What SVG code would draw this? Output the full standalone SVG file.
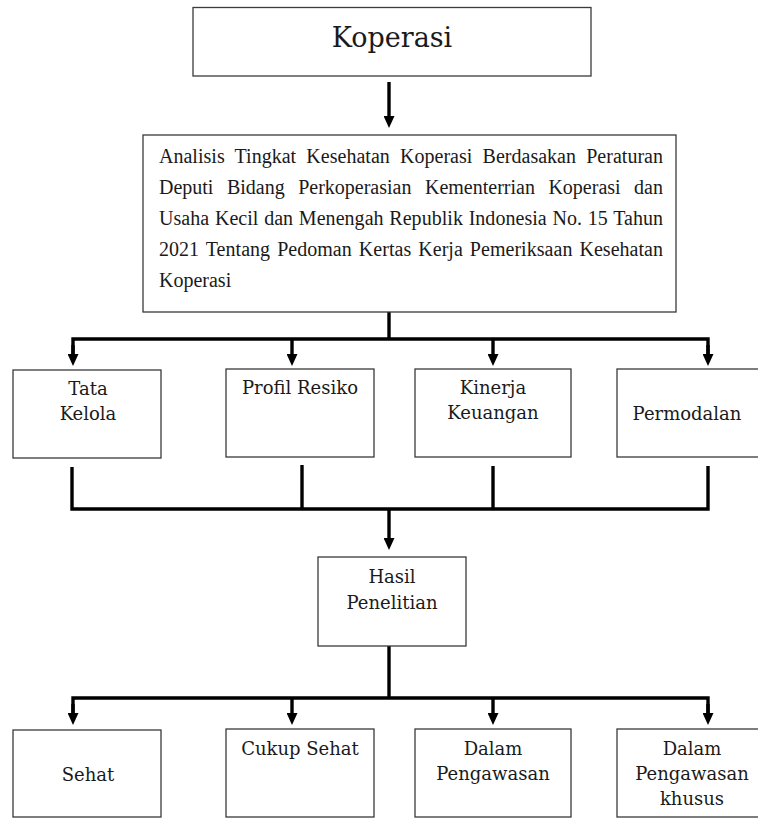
<svg xmlns="http://www.w3.org/2000/svg" width="758" height="819" viewBox="0 0 758 819">
<style>
.box{fill:#fff;stroke:#3a3a3a;stroke-width:1.3}
.lbl{font-family:"DejaVu Serif","Liberation Serif",serif;font-size:18px;fill:#1a1a1a;text-anchor:middle}
.title{font-family:"DejaVu Serif","Liberation Serif",serif;font-size:27px;fill:#1a1a1a;text-anchor:middle}
.body{font-family:"Liberation Serif","Times New Roman",serif;font-size:20px;fill:#1a1a1a}
.con{fill:none;stroke:#000;stroke-width:3.4;stroke-linejoin:miter;stroke-linecap:butt}
.arr{fill:none;stroke:#000;stroke-width:3.4}
</style>
<defs>
<marker id="ah" markerUnits="userSpaceOnUse" viewBox="0 0 12 11" markerWidth="12" markerHeight="11" refX="5" refY="5.5" orient="auto">
<path d="M0,0 L12,5.5 L0,11 z" fill="#000"/>
</marker>
</defs>
<rect width="758" height="819" fill="#fff"/>

<g id="connectors">
<line class="arr" x1="389" y1="82" x2="389" y2="121" marker-end="url(#ah)"/>
<polyline class="con" points="389,312 389,339"/>
<polyline class="con" points="73,359 73,339 708,339 708,359"/>
<line class="arr" x1="73" y1="345" x2="73" y2="359" marker-end="url(#ah)"/>
<line class="arr" x1="292" y1="339" x2="292" y2="359" marker-end="url(#ah)"/>
<line class="arr" x1="493" y1="339" x2="493" y2="359" marker-end="url(#ah)"/>
<line class="arr" x1="708" y1="345" x2="708" y2="359" marker-end="url(#ah)"/>
<polyline class="con" points="72,467 72,509 708,509 708,466"/>
<polyline class="con" points="302,465 302,509"/>
<polyline class="con" points="493,466 493,509"/>
<line class="arr" x1="389" y1="509" x2="389" y2="543" marker-end="url(#ah)"/>
<polyline class="con" points="389,646 389,698"/>
<polyline class="con" points="73,718 73,698 708,698 708,718"/>
<line class="arr" x1="73" y1="704" x2="73" y2="718" marker-end="url(#ah)"/>
<line class="arr" x1="292" y1="698" x2="292" y2="718" marker-end="url(#ah)"/>
<line class="arr" x1="493" y1="698" x2="493" y2="718" marker-end="url(#ah)"/>
<line class="arr" x1="708" y1="704" x2="708" y2="718" marker-end="url(#ah)"/>
</g>

<g id="koperasi">
<rect class="box" x="193" y="7.5" width="398" height="68.5"/>
<text class="title" x="392" y="47">Koperasi</text>
</g>

<g id="analisis">
<rect class="box" x="143" y="135" width="533" height="177"/>
<text class="body" x="159" y="163" word-spacing="5.2" textLength="504" lengthAdjust="spacing">Analisis Tingkat Kesehatan Koperasi Berdasakan Peraturan</text>
<text class="body" x="159" y="194" word-spacing="8.5" textLength="504" lengthAdjust="spacing">Deputi Bidang Perkoperasian Kementerrian Koperasi dan</text>
<text class="body" x="159" y="225" word-spacing="0.7" textLength="504" lengthAdjust="spacing">Usaha Kecil dan Menengah Republik Indonesia No. 15 Tahun</text>
<text class="body" x="159" y="256" word-spacing="2" textLength="504" lengthAdjust="spacing">2021 Tentang Pedoman Kertas Kerja Pemeriksaan Kesehatan</text>
<text class="body" x="159" y="287">Koperasi</text>
</g>

<g id="tata-kelola">
<rect class="box" x="13" y="370" width="148" height="88"/>
<text class="lbl" x="88" y="395">Tata</text>
<text class="lbl" x="88" y="420">Kelola</text>
</g>

<g id="profil-resiko">
<rect class="box" x="226" y="369" width="148" height="88"/>
<text class="lbl" x="300" y="394">Profil Resiko</text>
</g>

<g id="kinerja-keuangan">
<rect class="box" x="415" y="369" width="156" height="88"/>
<text class="lbl" x="493" y="394">Kinerja</text>
<text class="lbl" x="493" y="419">Keuangan</text>
</g>

<g id="permodalan">
<rect class="box" x="617" y="369" width="145" height="88"/>
<text class="lbl" x="687" y="420">Permodalan</text>
</g>

<g id="hasil-penelitian">
<rect class="box" x="318" y="557" width="148" height="89"/>
<text class="lbl" x="392" y="583">Hasil</text>
<text class="lbl" x="392" y="609">Penelitian</text>
</g>

<g id="sehat">
<rect class="box" x="13" y="730" width="148" height="87"/>
<text class="lbl" x="88" y="781">Sehat</text>
</g>

<g id="cukup-sehat">
<rect class="box" x="226" y="729" width="148" height="88"/>
<text class="lbl" x="300" y="755">Cukup Sehat</text>
</g>

<g id="dalam-pengawasan">
<rect class="box" x="415" y="729" width="156" height="88"/>
<text class="lbl" x="493" y="755">Dalam</text>
<text class="lbl" x="493" y="780">Pengawasan</text>
</g>

<g id="dalam-pengawasan-khusus">
<rect class="box" x="617" y="729" width="145" height="88"/>
<text class="lbl" x="692" y="755">Dalam</text>
<text class="lbl" x="692" y="780">Pengawasan</text>
<text class="lbl" x="692" y="805">khusus</text>
</g>
</svg>
